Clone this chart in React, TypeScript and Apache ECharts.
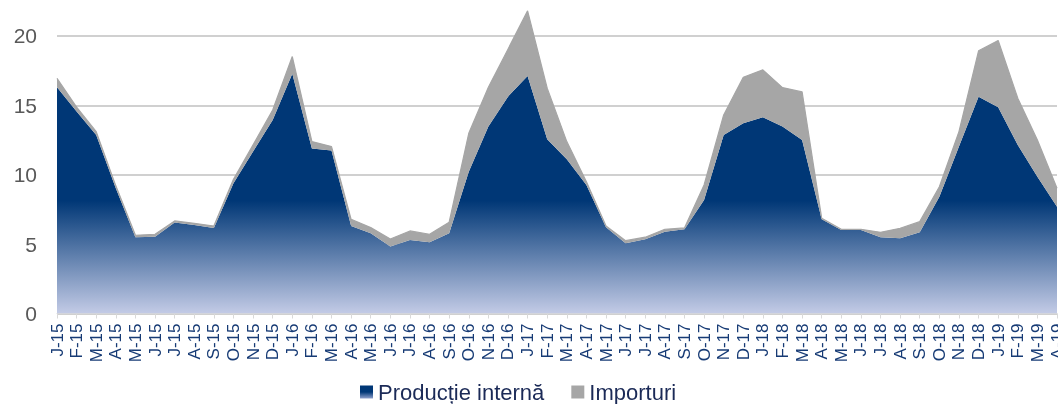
import React, { useEffect, useRef } from "react";
import * as echarts from "echarts";

const categories = [
  "J-15", "F-15", "M-15", "A-15", "M-15", "J-15", "J-15", "A-15", "S-15", "O-15", "N-15", "D-15",
  "J-16", "F-16", "M-16", "A-16", "M-16", "J-16", "J-16", "A-16", "S-16", "O-16", "N-16", "D-16",
  "J-17", "F-17", "M-17", "A-17", "M-17", "J-17", "J-17", "A-17", "S-17", "O-17", "N-17", "D-17",
  "J-18", "F-18", "M-18", "A-18", "M-18", "J-18", "J-18", "A-18", "S-18", "O-18", "N-18", "D-18",
  "J-19", "F-19", "M-19", "A-19",
];

const productieInterna = [
  16.3, 14.55, 12.87, 9.03, 5.49, 5.54, 6.55, 6.38, 6.16, 9.39, 11.67, 13.95,
  17.27, 11.9, 11.74, 6.31, 5.78, 4.82, 5.3, 5.13, 5.78, 10.22, 13.47, 15.63,
  17.12, 12.56, 11.12, 9.26, 6.21, 5.06, 5.35, 5.9, 6.07, 8.18, 12.87, 13.71,
  14.15, 13.47, 12.51, 6.79, 6.02, 6.02, 5.49, 5.42, 5.85, 8.42, 12.03, 15.63,
  14.87, 12.15, 9.86, 7.7,
];

const importuri = [
  0.65, 0.32, 0.23, 0.17, 0.15, 0.17, 0.12, 0.12, 0.14, 0.28, 0.48, 0.72,
  1.25, 0.49, 0.29, 0.48, 0.41, 0.55, 0.65, 0.58, 0.8, 2.77, 2.84, 3.42,
  4.69, 3.68, 1.27, 0.24, 0.09, 0.19, 0.15, 0.17, 0.1, 1.08, 1.44, 3.32,
  3.41, 2.81, 3.46, 0.07, 0.05, 0.05, 0.36, 0.72, 0.77, 0.72, 1.08, 3.3,
  4.8, 3.37, 2.65, 1.33,
];

const yTicks = { min: 0, max: 22.5, interval: 5 };

const FONT = "'Liberation Sans', Arial, sans-serif";

export default function App() {
  const ref = useRef<HTMLDivElement>(null);

  useEffect(() => {
    if (!ref.current) return;
    const chart = echarts.init(ref.current, null, { renderer: "svg" });

    const gridTop = 1.3;
    const gridBottom = 90.5;
    const axisY = 404 - gridBottom;

    const areaGradient = new echarts.graphic.LinearGradient(
      0, 0, 0, axisY,
      [
        { offset: 0, color: "#003776" },
        { offset: 0.64, color: "#003776" },
        { offset: 1, color: "#C3CBE6" },
      ],
      true
    );
    const legendGradient = new echarts.graphic.LinearGradient(0, 0, 0, 1, [
      { offset: 0, color: "#003776" },
      { offset: 0.5, color: "#003776" },
      { offset: 1, color: "#8FA0CC" },
    ]);

    chart.setOption({
      animation: false,
      textStyle: { fontFamily: FONT },
      grid: {
        left: 57,
        right: 1,
        top: gridTop,
        bottom: gridBottom,
        containLabel: false,
        outerBoundsMode: "none",
      },
      legend: {
        left: 355,
        top: 375,
        icon: "rect",
        itemWidth: 13,
        itemHeight: 13,
        itemGap: 27,
        textStyle: { fontSize: 22, color: "#1B2A57", fontFamily: FONT, lineHeight: 24 },
        data: [
          { name: "Producție internă", itemStyle: { color: legendGradient } },
          { name: "Importuri", itemStyle: { color: "#A6A6A6" } },
        ],
      },
      xAxis: {
        type: "category",
        data: categories,
        boundaryGap: false,
        axisLine: { show: true, lineStyle: { color: "#D9D9D9", width: 1 } },
        axisTick: { show: true, interval: 0, length: 5, lineStyle: { color: "#D9D9D9" } },
        axisLabel: {
          interval: 0,
          rotate: 90,
          fontSize: 17,
          color: "#173B75",
          margin: 10,
          fontFamily: FONT,
        },
        splitLine: { show: false },
      },
      yAxis: {
        type: "value",
        min: yTicks.min,
        max: yTicks.max,
        interval: yTicks.interval,
        axisLine: { show: false },
        axisTick: { show: false },
        axisLabel: {
          fontSize: 21,
          color: "#595959",
          margin: 20,
          showMaxLabel: false,
          fontFamily: FONT,
        },
        splitLine: {
          show: true,
          showMaxLine: false,
          lineStyle: { color: "#C0C0C0", width: 1.5 },
        },
      },
      series: [
        {
          name: "Producție internă",
          type: "line",
          stack: "total",
          data: productieInterna,
          symbol: "none",
          lineStyle: { width: 0 },
          itemStyle: { color: "#003776" },
          areaStyle: { color: areaGradient, opacity: 1 },
        },
        {
          name: "Importuri",
          type: "line",
          stack: "total",
          data: importuri,
          symbol: "none",
          lineStyle: { width: 1.2, color: "#A6A6A6" },
          itemStyle: { color: "#A6A6A6" },
          areaStyle: { color: "#A6A6A6", opacity: 1 },
        },
      ],
    });

    return () => chart.dispose();
  }, []);

  return (
    <div
      ref={ref}
      style={{ position: "fixed", left: 0, top: 0, width: 1058, height: 404 }}
    />
  );
}
